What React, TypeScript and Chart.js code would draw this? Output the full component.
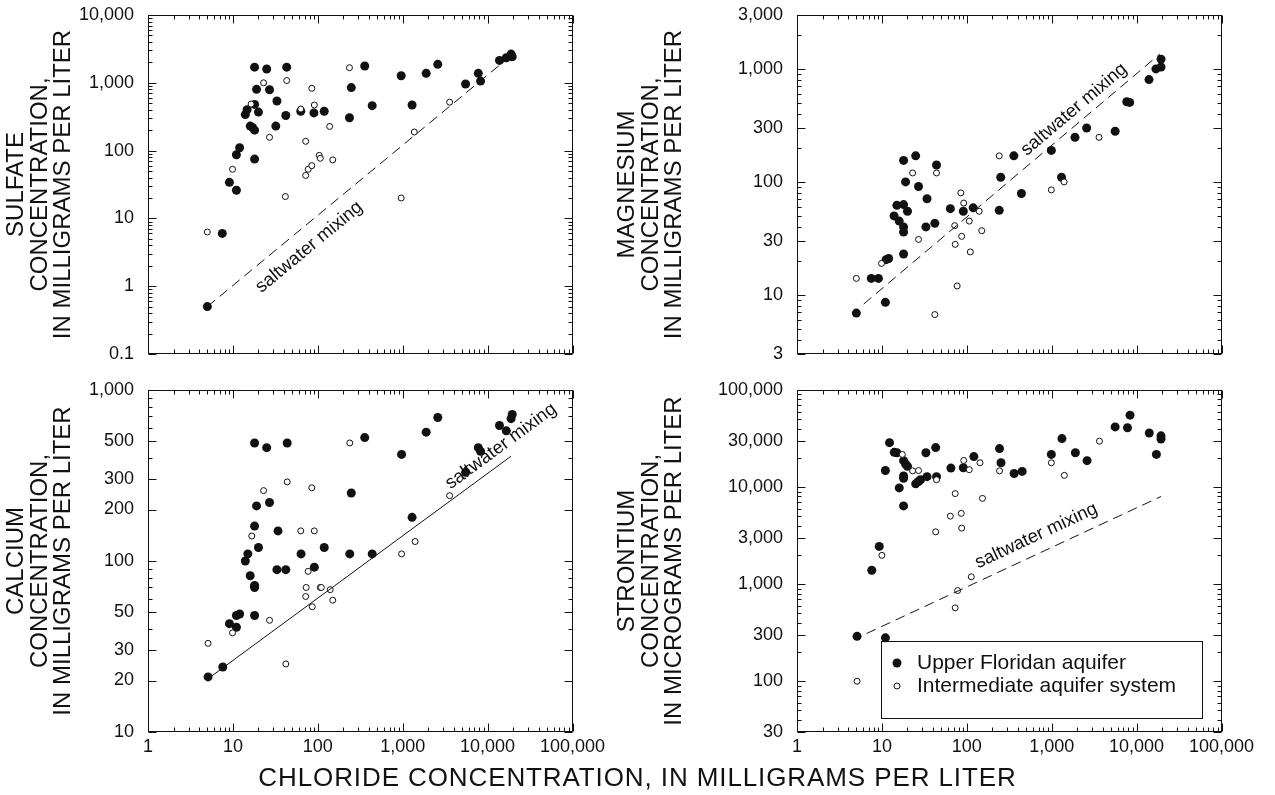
import React, { useEffect, useRef } from "react";
import { Chart, registerables } from "chart.js";
Chart.register(...registerables);

const FONT = "'Liberation Sans', Arial, Helvetica, sans-serif";

// ---------- tick labels ----------
const xTickValues = [1, 10, 100, 1000, 10000, 100000];
const sulfateTicks = [0.1, 1, 10, 100, 1000, 10000];
const magnesiumTicks = [3, 10, 30, 100, 300, 1000, 3000];
const calciumTicks = [10, 20, 30, 50, 100, 200, 300, 500, 1000];
const strontiumTicks = [30, 100, 300, 1000, 3000, 10000, 30000, 100000];

// ---------- Sulfate panel ----------
const so4UfaCl = [5, 7.5, 9.1, 11, 11, 12, 14, 14.7, 16, 17, 18, 18, 18, 18, 19, 20, 25, 27, 33, 32, 42, 43, 63, 90, 119, 236, 248, 357, 437, 960, 1290, 1890, 2590, 5500, 7770, 8260, 13800, 16600, 18900, 19500];
const so4UfaVal = [0.5, 6, 34, 26, 87, 110, 340, 400, 230, 220, 200, 75, 1700, 480, 800, 370, 1600, 790, 540, 230, 330, 1700, 380, 360, 380, 305, 850, 1770, 460, 1270, 470, 1380, 1870, 960, 1380, 1060, 2140, 2340, 2650, 2420];
const so4IasCl = [5, 9.9, 16.4, 23, 27, 41.5, 43, 63, 72, 72, 77, 85, 85, 91, 104, 107, 138, 150, 236, 960, 1370, 3570];
const so4IasVal = [6.3, 53, 485, 1000, 157, 21, 1080, 410, 137, 43, 53, 830, 60, 470, 85, 77, 227, 73, 1670, 20, 188, 518];
const so4MixCl = [5, 19500];
const so4MixVal = [0.5, 2600];

// ---------- Magnesium panel ----------
const mgUfaCl = [5, 7.5, 9.1, 11, 11.2, 12, 13.9, 15, 16, 18, 18, 18, 18, 18, 19, 20, 25, 27, 34, 33, 42, 44, 64, 91, 119, 241, 251, 358, 440, 990, 1306, 1880, 2580, 5590, 7660, 8290, 14000, 16900, 19400, 19400];
const mgUfaVal = [6.9, 14, 14, 8.6, 20.5, 21, 50, 62, 45, 63, 155, 40, 36, 23, 100, 55, 170, 91, 71, 40, 43, 141, 58, 55, 59, 56, 110, 170, 79, 190, 110, 248, 300, 281, 512, 505, 805, 1000, 1040, 1220];
const mgIasCl = [5, 9.9, 23, 27, 42, 44, 72, 73, 77, 85, 87, 92, 107, 110, 140, 150, 241, 990, 1400, 3610];
const mgIasVal = [14, 19, 120, 31, 6.7, 120, 41, 28, 12, 80, 33, 65, 45, 24, 55, 37, 170, 85, 100, 248];
const mgMixCl = [6.1, 18800];
const mgMixVal = [8.3, 1355];

// ---------- Calcium panel ----------
const caUfaCl = [5.1, 7.6, 9.1, 11, 11, 12, 14, 15, 16, 18, 18, 18, 18, 18, 19, 20, 25, 27, 33, 34, 42, 43.6, 63.5, 91, 119, 238, 248, 357, 437, 970, 1290, 1890, 2590, 5510, 7770, 8260, 13800, 16600, 18900, 19500];
const caUfaVal = [21, 24, 43, 41, 48, 49, 100, 110, 82, 160, 490, 72, 70, 48, 210, 120, 460, 220, 89, 150, 89, 490, 110, 92, 120, 110, 250, 527, 110, 420, 180, 567, 690, 330, 460, 438, 620, 577, 680, 720];
const caIasCl = [5.1, 9.9, 16.7, 23, 27, 42, 43.6, 63, 72, 73, 77, 85, 86, 91, 107, 110, 140, 150, 238, 970, 1400, 3570];
const caIasVal = [33, 38, 140, 258, 45, 25, 290, 150, 62, 70, 87, 268, 54, 150, 70, 70, 68, 59, 490, 110, 130, 241];
const caMixCl = [5.1, 18900];
const caMixVal = [20.5, 410];

// ---------- Strontium panel ----------
const srUfaCl = [5.1, 7.6, 9.3, 11, 11, 12.3, 14, 15, 16, 18, 18, 18, 18, 19, 20, 25, 27, 28.5, 33, 34, 43, 44, 65, 91, 121, 243, 253, 361, 449, 990, 1320, 1900, 2610, 5590, 7810, 8370, 14100, 17100, 19400, 19400];
const srUfaVal = [290, 1390, 2450, 280, 14800, 28700, 22800, 22600, 9800, 6400, 18700, 13000, 12300, 17300, 16400, 10800, 11400, 11900, 22600, 12800, 25500, 12800, 15700, 15800, 20600, 24900, 17800, 13800, 14500, 21700, 31600, 22600, 18700, 41700, 40800, 55100, 36100, 21700, 31300, 33700];
const srIasCl = [5.1, 10, 17.4, 23, 27, 43, 44, 64, 73, 73, 78, 86, 87, 92, 107, 113, 143, 153, 243, 990, 1410, 3650];
const srIasVal = [100, 1980, 21700, 14700, 14800, 3460, 11900, 5020, 8570, 570, 860, 5360, 3780, 18800, 15100, 1190, 17800, 7650, 14700, 17800, 13200, 29700];
const srMixCl = [6.6, 19400];
const srMixVal = [310, 8000];

const legendLabels = ["Upper Floridan aquifer", "Intermediate aquifer system"];
const mixLabel = "saltwater mixing";
const xTitle = "CHLORIDE CONCENTRATION, IN MILLIGRAMS PER LITER";

const fmt = (v: number) => v.toLocaleString("en-US", { maximumFractionDigits: 1 });
const zip = (xs: number[], ys: number[]) => xs.map((x, i) => ({ x, y: ys[i] }));

type Panel = {
  left: number; top: number; width: number; height: number;
  yWidth: number; padTop: number; padRight: number; xHeight: number;
  showX: boolean; yMin: number; yMax: number; yTicks: number[];
  yTitle: string[]; titlePad: number;
  ufaX: number[]; ufaY: number[]; iasX: number[]; iasY: number[];
  mixX: number[]; mixY: number[]; dash: number[];
  labelX: number; labelOff: number; legend: boolean;
};

const panels: Panel[] = [
  {
    left: 0, top: 0, width: 640, height: 375, yWidth: 148, padTop: 15, padRight: 67.5, xHeight: 21,
    showX: false, yMin: 0.1, yMax: 10000, yTicks: sulfateTicks,
    yTitle: ["SULFATE", "CONCENTRATION,", "IN MILLIGRAMS PER LITER"], titlePad: 5,
    ufaX: so4UfaCl, ufaY: so4UfaVal, iasX: so4IasCl, iasY: so4IasVal,
    mixX: so4MixCl, mixY: so4MixVal, dash: [10, 6], labelX: 57, labelOff: 19, legend: false,
  },
  {
    left: 600, top: 0, width: 675, height: 375, yWidth: 197, padTop: 15, padRight: 53.5, xHeight: 21,
    showX: false, yMin: 3, yMax: 3000, yTicks: magnesiumTicks,
    yTitle: ["MAGNESIUM", "CONCENTRATION,", "IN MILLIGRAMS PER LITER"], titlePad: 16,
    ufaX: mgUfaCl, ufaY: mgUfaVal, iasX: mgIasCl, iasY: mgIasVal,
    mixX: mgMixCl, mixY: mgMixVal, dash: [10, 6], labelX: 2300, labelOff: -13, legend: false,
  },
  {
    left: 0, top: 375, width: 640, height: 420, yWidth: 148, padTop: 15, padRight: 67.5, xHeight: 63,
    showX: true, yMin: 10, yMax: 1000, yTicks: calciumTicks,
    yTitle: ["CALCIUM", "CONCENTRATION,", "IN MILLIGRAMS PER LITER"], titlePad: 5,
    ufaX: caUfaCl, ufaY: caUfaVal, iasX: caIasCl, iasY: caIasVal,
    mixX: caMixCl, mixY: caMixVal, dash: [], labelX: 18000, labelOff: -14, legend: false,
  },
  {
    left: 600, top: 375, width: 675, height: 420, yWidth: 197, padTop: 15, padRight: 53.5, xHeight: 63,
    showX: true, yMin: 30, yMax: 100000, yTicks: strontiumTicks,
    yTitle: ["STRONTIUM", "CONCENTRATION,", "IN MICROGRAMS PER LITER"], titlePad: 16,
    ufaX: srUfaCl, ufaY: srUfaVal, iasX: srIasCl, iasY: srIasVal,
    mixX: srMixCl, mixY: srMixVal, dash: [10, 6], labelX: 800, labelOff: -17, legend: true,
  },
];

const decoPlugin = {
  id: "deco",
  beforeDatasetsDraw(chart: any, _a: any, opts: any) {
    const ctx = chart.ctx as CanvasRenderingContext2D;
    const area = chart.chartArea;
    const xs = chart.scales.x, ys = chart.scales.y;
    ctx.save();
    ctx.strokeStyle = "#111";
    ctx.lineWidth = 1;
    const L = Math.round(area.left) + 0.5, R = Math.round(area.right) - 0.5;
    const T = Math.round(area.top) + 0.5, B = Math.round(area.bottom) - 0.5;
    ctx.strokeRect(L, T, R - L, B - T);
    const isMajor = (v: number, list: number[]) => list.some((t) => Math.abs(t - v) / t < 1e-6);
    const drawTicks = (scale: any, horiz: boolean, majors: number[]) => {
      const d0 = Math.floor(Math.log10(scale.min)), d1 = Math.ceil(Math.log10(scale.max));
      ctx.beginPath();
      for (let d = d0; d <= d1; d++) {
        for (let m = 1; m <= 9; m++) {
          const v = m * Math.pow(10, d);
          if (v < scale.min * 0.999 || v > scale.max * 1.001) continue;
          const p = Math.round(scale.getPixelForValue(v)) + 0.5;
          const len = isMajor(v, majors) ? 8 : 4;
          if (horiz) {
            ctx.moveTo(p, B); ctx.lineTo(p, B - len);
            ctx.moveTo(p, T); ctx.lineTo(p, T + len);
          } else {
            ctx.moveTo(L, p); ctx.lineTo(L + len, p);
            ctx.moveTo(R, p); ctx.lineTo(R - len, p);
          }
        }
      }
      ctx.stroke();
    };
    drawTicks(xs, true, xTickValues);
    drawTicks(ys, false, opts.yTicks);

    // saltwater mixing label along the line
    const [x1, x2] = opts.mixX, [y1, y2] = opts.mixY;
    const p1x = xs.getPixelForValue(x1), p1y = ys.getPixelForValue(y1);
    const p2x = xs.getPixelForValue(x2), p2y = ys.getPixelForValue(y2);
    const ang = Math.atan2(p2y - p1y, p2x - p1x);
    const t = (Math.log10(opts.labelX) - Math.log10(x1)) / (Math.log10(x2) - Math.log10(x1));
    const ly = Math.pow(10, Math.log10(y1) + t * (Math.log10(y2) - Math.log10(y1)));
    const px = xs.getPixelForValue(opts.labelX), py = ys.getPixelForValue(ly);
    const nx = -Math.sin(ang), ny = Math.cos(ang);
    ctx.translate(px + nx * opts.labelOff, py + ny * opts.labelOff);
    ctx.rotate(ang);
    ctx.fillStyle = "#111";
    ctx.font = `18.5px ${FONT}`;
    ctx.textAlign = "center";
    ctx.textBaseline = "middle";
    ctx.fillText(mixLabel, 0, 0);
    ctx.restore();

    if (opts.legend) {
      ctx.save();
      const bx = 881 - 600, by = 641 - 375, bw = 321, bh = 77;
      ctx.strokeStyle = "#111";
      ctx.lineWidth = 1;
      ctx.strokeRect(bx + 0.5, by + 0.5, bw, bh);
      ctx.font = `21px ${FONT}`;
      ctx.fillStyle = "#111";
      ctx.textBaseline = "middle";
      ctx.textAlign = "left";
      const rows = [by + 22, by + 45];
      ctx.beginPath();
      ctx.arc(bx + 16, rows[0], 4.5, 0, Math.PI * 2);
      ctx.fill();
      ctx.beginPath();
      ctx.arc(bx + 16, rows[1], 3, 0, Math.PI * 2);
      ctx.fillStyle = "#fff";
      ctx.fill();
      ctx.stroke();
      ctx.fillStyle = "#111";
      ctx.fillText(legendLabels[0], bx + 36, rows[0]);
      ctx.fillText(legendLabels[1], bx + 36, rows[1]);
      ctx.restore();
    }
  },
};

function PanelChart({ p }: { p: Panel }) {
  const ref = useRef<HTMLCanvasElement>(null);
  useEffect(() => {
    if (!ref.current) return;
    const chart = new Chart(ref.current, {
      type: "scatter",
      data: {
        datasets: [
          {
            data: zip(p.mixX, p.mixY),
            showLine: true,
            pointRadius: 0,
            borderColor: "#111",
            borderWidth: 1,
            borderDash: p.dash,
          } as any,
          {
            label: legendLabels[1],
            data: zip(p.iasX, p.iasY),
            pointRadius: 3,
            pointBackgroundColor: "#fff",
            pointBorderColor: "#111",
            pointBorderWidth: 1,
          } as any,
          {
            label: legendLabels[0],
            data: zip(p.ufaX, p.ufaY),
            pointRadius: 4.5,
            pointBackgroundColor: "#111",
            pointBorderColor: "#111",
            pointBorderWidth: 0,
          } as any,
        ],
      },
      options: {
        responsive: false,
        animation: false,
        events: [],
        layout: { padding: { left: 0, top: p.padTop, right: p.padRight, bottom: 0 } },
        plugins: {
          legend: { display: false },
          tooltip: { enabled: false },
          deco: {
            yTicks: p.yTicks, mixX: p.mixX, mixY: p.mixY,
            labelX: p.labelX, labelOff: p.labelOff, legend: p.legend,
          },
        } as any,
        scales: {
          x: {
            type: "logarithmic",
            min: 1,
            max: 100000,
            grid: { display: false, drawTicks: true, tickLength: 4 },
            border: { display: false },
            afterBuildTicks: (s: any) => { s.ticks = xTickValues.map((v) => ({ value: v })); },
            afterFit: (s: any) => { s.height = p.xHeight; },
            ticks: {
              display: p.showX,
              autoSkip: false,
              maxRotation: 0,
              padding: 0,
              color: "#111",
              font: { family: FONT, size: 18 },
              callback: (v: any) => fmt(Number(v)),
            },
          },
          y: {
            type: "logarithmic",
            min: p.yMin,
            max: p.yMax,
            grid: { display: false, drawTicks: true, tickLength: 14 },
            border: { display: false },
            afterBuildTicks: (s: any) => { s.ticks = p.yTicks.map((v) => ({ value: v })); },
            afterFit: (s: any) => { s.width = p.yWidth; },
            ticks: {
              autoSkip: false,
              padding: 0,
              color: "#111",
              font: { family: FONT, size: 18 },
              callback: (v: any) => fmt(Number(v)),
            },
            title: {
              display: true,
              text: p.yTitle,
              color: "#111",
              font: { family: FONT, size: 24, lineHeight: 0.98 },
              padding: { top: p.titlePad, bottom: 0 },
            },
          },
        },
      } as any,
      plugins: [decoPlugin],
    });
    return () => chart.destroy();
  }, [p]);
  return (
    <canvas
      ref={ref}
      width={p.width}
      height={p.height}
      style={{ position: "absolute", left: p.left, top: p.top, width: p.width, height: p.height }}
    />
  );
}

export default function App() {
  return (
    <div style={{ position: "absolute", left: 0, top: 0, width: 1275, height: 795, background: "#fff", overflow: "hidden" }}>
      {panels.map((p, i) => (
        <PanelChart key={i} p={p} />
      ))}
      <div
        style={{
          position: "absolute", left: 0, top: 764, width: 1275, textAlign: "center",
          fontFamily: FONT, fontSize: 26, lineHeight: "26px", letterSpacing: "0.9px", color: "#111",
        }}
      >
        {xTitle}
      </div>
    </div>
  );
}
